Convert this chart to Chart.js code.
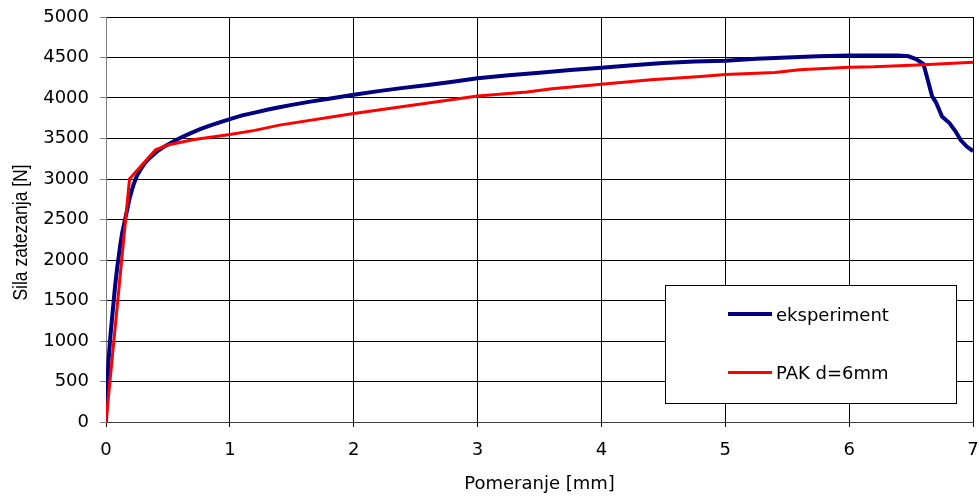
<!DOCTYPE html>
<html lang="sr">
<head>
  <meta charset="UTF-8" />
  <title>Sila zatezanja - pomeranje</title>
  <script src="https://cdn.jsdelivr.net/npm/chart.js"></script>
  <style>
    body {
      margin: 0;
      padding: 0;
      background: #ffffff;
      overflow: hidden;
    }
    canvas {
      display: block;
    }
  </style>
</head>
<body>
  <canvas id="chart" width="979" height="497"></canvas>

  <script>
    // eksperiment (mm, N)
    const ekspX = [0, 0.01, 0.02, 0.035, 0.05, 0.073, 0.09, 0.113, 0.13, 0.153, 0.175, 0.194, 0.22, 0.247, 0.28,
      0.315, 0.36, 0.41, 0.47, 0.54, 0.61, 0.68, 0.76, 0.85, 0.93, 1.0, 1.1, 1.2, 1.3, 1.4, 1.5, 1.65, 1.8,
      2.0, 2.2, 2.4, 2.6, 2.8, 3.0, 3.25, 3.5, 3.75, 4.0, 4.25, 4.5, 4.75, 5.0, 5.25, 5.5, 5.75, 6.0, 6.25,
      6.4, 6.48, 6.54, 6.6, 6.63, 6.67, 6.7, 6.75, 6.81, 6.86, 6.9, 6.95, 7.0];
    const ekspY = [0, 450, 750, 1050, 1300, 1670, 1900, 2164, 2330, 2494, 2650, 2782, 2920, 3029, 3120,
      3198, 3270, 3337, 3400, 3460, 3515, 3564, 3615, 3665, 3705, 3740, 3785, 3820, 3855, 3885, 3915, 3955, 3990,
      4040, 4085, 4125, 4160, 4200, 4245, 4280, 4312, 4345, 4372, 4405, 4432, 4450, 4460, 4485, 4500, 4515, 4525, 4525,
      4525, 4515, 4480, 4420, 4250, 4020, 3950, 3770, 3690, 3585, 3480, 3400, 3345];

    // PAK d=6mm (mm, N)
    const pakX = [0, 0.19, 0.4, 0.5, 0.7, 1.0, 1.2, 1.4, 2.0, 3.0, 3.4, 3.6, 4.0, 4.4, 4.8, 5.0, 5.4, 5.6, 6.0, 6.2, 6.6, 7.0];
    const pakY = [0, 3000, 3360, 3420, 3485, 3550, 3600, 3665, 3808, 4025, 4075, 4115, 4170, 4225, 4265, 4290, 4315, 4350, 4380, 4385, 4410, 4440];

    const seriesNames = ['eksperiment', 'PAK d=6mm'];
    const xMin = 0, xMax = 7, xStep = 1;
    const yMin = 0, yMax = 5000, yStep = 500;

    const toPoints = (xs, ys) => xs.map((x, i) => ({ x: x, y: ys[i] }));

    // legend box inside the plot, like the original
    const boxLegend = {
      id: 'boxLegend',
      afterDraw(chart) {
        const ctx = chart.ctx;
        ctx.save();
        ctx.fillStyle = '#ffffff';
        ctx.fillRect(666, 286, 290, 117);
        ctx.strokeStyle = '#000000';
        ctx.lineWidth = 1;
        ctx.strokeRect(665.5, 285.5, 291, 118);
        ctx.font = '18px "DejaVu Sans"';
        ctx.textBaseline = 'middle';
        ctx.textAlign = 'left';
        chart.data.datasets.forEach((ds, i) => {
          const y = 314 + i * 58.5;
          ctx.strokeStyle = ds.borderColor;
          ctx.lineWidth = ds.borderWidth;
          ctx.beginPath();
          ctx.moveTo(728, y);
          ctx.lineTo(772, y);
          ctx.stroke();
          ctx.fillStyle = '#000000';
          ctx.fillText(ds.label, 776, y + 2);
        });
        ctx.restore();
      }
    };

    // rotated y title, widened like the source picture
    const yTitle = {
      id: 'yTitle',
      afterDraw(chart) {
        const ctx = chart.ctx;
        ctx.save();
        ctx.translate(21.5, 232.5);
        ctx.rotate(-Math.PI / 2);
        ctx.scale(1, 1.2);
        ctx.font = '17.5px "Liberation Sans"';
        ctx.fillStyle = '#000000';
        ctx.textAlign = 'center';
        ctx.textBaseline = 'middle';
        ctx.fillText('Sila zatezanja [N]', 0, 0);
        ctx.restore();
      }
    };

    const chart = new Chart(document.getElementById('chart').getContext('2d'), {
      type: 'line',
      data: {
        datasets: [
          {
            label: seriesNames[0],
            data: toPoints(ekspX, ekspY),
            borderColor: '#000080',
            borderWidth: 4,
            pointRadius: 0,
            tension: 0,
            order: 2
          },
          {
            label: seriesNames[1],
            data: toPoints(pakX, pakY),
            borderColor: '#ff0000',
            borderWidth: 3,
            pointRadius: 0,
            tension: 0,
            order: 1
          }
        ]
      },
      options: {
        responsive: false,
        animation: false,
        devicePixelRatio: 1,
        layout: { padding: { top: 17, right: 6, left: 0, bottom: 0 } },
        plugins: {
          legend: { display: false },
          tooltip: { enabled: false }
        },
        scales: {
          x: {
            type: 'linear',
            min: xMin,
            max: xMax,
            afterFit: (scale) => {
              scale.height = 75;
              scale.paddingLeft = 0;
              scale.paddingRight = 0;
            },
            ticks: {
              stepSize: xStep,
              padding: 13,
              color: '#000000',
              font: { family: 'DejaVu Sans', size: 18 }
            },
            grid: { color: '#000000', tickLength: 5, tickColor: '#000000' },
            border: { color: '#404040' },
            title: {
              display: true,
              text: 'Pomeranje [mm]',
              color: '#000000',
              font: { family: 'DejaVu Sans', size: 18 },
              padding: { top: 0, bottom: 2 }
            }
          },
          y: {
            type: 'linear',
            min: yMin,
            max: yMax,
            afterFit: (scale) => {
              scale.width = 106;
              scale.paddingTop = 0;
              scale.paddingBottom = 0;
            },
            ticks: {
              stepSize: yStep,
              padding: 11,
              color: '#000000',
              format: { useGrouping: false },
              font: { family: 'DejaVu Sans', size: 18 }
            },
            grid: { color: '#000000', tickLength: 6, tickColor: '#808080' },
            border: { color: '#808080' }
          }
        }
      },
      plugins: [boxLegend, yTitle]
    });
  </script>
</body>
</html>
